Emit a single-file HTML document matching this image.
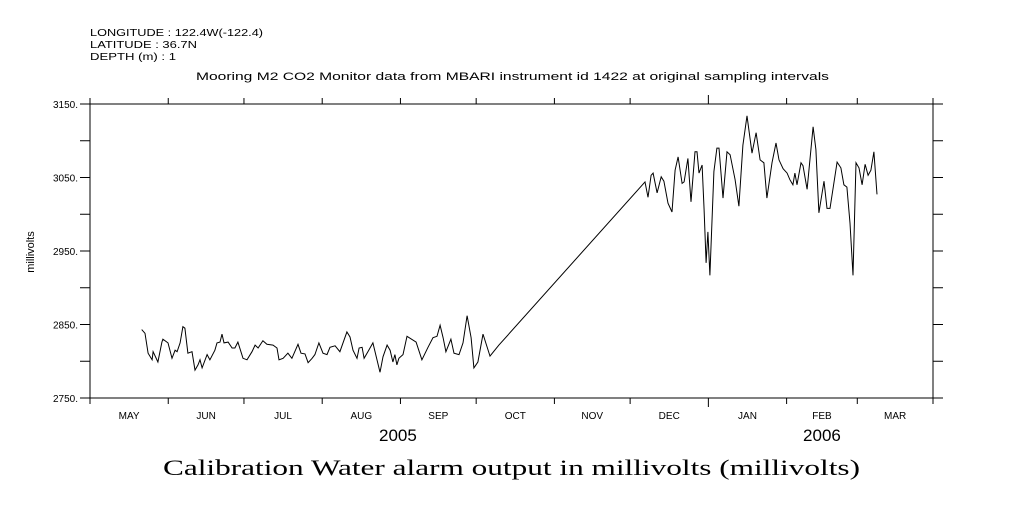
<!DOCTYPE html>
<html><head><meta charset="utf-8"><style>
body{margin:0;background:#fff;width:1009px;height:504px;overflow:hidden}
svg text{font-family:"Liberation Sans",sans-serif;fill:#000}
</style></head><body>
<svg id="chart" width="1009" height="504" xmlns="http://www.w3.org/2000/svg">
<g font-size="10">
<text x="90" y="36" textLength="173" lengthAdjust="spacingAndGlyphs">LONGITUDE : 122.4W(-122.4)</text>
<text x="90" y="48" textLength="107" lengthAdjust="spacingAndGlyphs">LATITUDE : 36.7N</text>
<text x="90" y="60" textLength="86" lengthAdjust="spacingAndGlyphs">DEPTH (m) : 1</text>
</g>
<text x="196" y="80" font-size="11" textLength="633" lengthAdjust="spacingAndGlyphs">Mooring M2 CO2 Monitor data from MBARI instrument id 1422 at original sampling intervals</text>
<text transform="translate(34,252) rotate(-90)" font-size="11" text-anchor="middle">millivolts</text>
<text x="163" y="475" font-size="22" textLength="697" lengthAdjust="spacingAndGlyphs" style="font-family:'Liberation Serif',serif">Calibration Water alarm output in millivolts (millivolts)</text>
<rect x="90" y="104" width="843" height="294" fill="none" stroke="#000" stroke-width="1"/>
<g id="axes"></g>
<g id="series"></g>
</svg>
<script>
const monthLabels=["MAY","JUN","JUL","AUG","SEP","OCT","NOV","DEC","JAN","FEB","MAR"];
const monthStartDays=[0,31,61,92,123,153,184,214,245,276,304,334];
const yTicks=[2750,2850,2950,3050,3150];
const yMinorTicks=[2800,2900,3000,3100];
const yearLabels=["2005","2006"];
const yearDays=[122,290];
const seg1Days=[20.5,21.8,23.0,24.6,25.0,26.9,28.5,28.9,30.9,32.5,33.7,34.5,35.7,36.8,37.6,38.8,40.4,41.6,42.8,43.6,44.4,46.4,47.5,49.5,50.3,51.5,52.3,53.1,54.7,56.3,57.4,58.6,60.6,62.2,64.2,65.4,66.6,68.5,70.1,72.5,74.1,74.9,76.5,78.4,80.0,82.4,83.6,85.2,86.4,88.0,89.1,90.7,92.3,93.9,95.1,97.1,99.0,101.8,103.0,104.2,105.8,106.6,107.8,108.6,110.1,112.1,114.9,116.1,117.7,118.9,120.0,120.8,121.6,122.4,124.0,125.6,129.2,131.5,133.9,135.9,137.5,138.7,139.9,141.0,143.0,144.2,146.2,147.8,149.4,151.0,152.1,153.7,155.7,158.5,162.0];
const seg1Values=[2843,2838,2811,2802,2813,2799,2826,2830,2825,2804,2815,2813,2825,2847,2845,2811,2813,2788,2795,2802,2791,2809,2802,2815,2825,2826,2837,2825,2826,2818,2818,2826,2804,2802,2813,2822,2818,2828,2823,2822,2818,2802,2804,2811,2804,2823,2811,2810,2798,2804,2809,2825,2811,2809,2819,2821,2813,2840,2833,2815,2804,2818,2819,2804,2813,2825,2785,2806,2822,2815,2799,2809,2795,2804,2809,2834,2826,2802,2819,2832,2834,2849,2832,2813,2830,2811,2809,2825,2862,2832,2791,2799,2837,2807,2822];
const seg2Days=[219.9,221.1,222.3,223.1,224.7,226.3,227.4,229.0,230.6,231.8,233.0,234.6,235.4,236.9,238.1,239.7,240.5,241.3,242.5,243.3,244.1,244.8,245.6,247.2,248.4,249.2,250.8,252.4,253.6,255.6,257.1,258.7,260.3,262.3,263.9,265.5,267.0,268.2,270.2,271.8,273.0,274.6,276.2,277.3,278.5,279.3,280.1,281.7,282.5,284.1,286.5,287.6,288.8,290.8,292.0,293.2,296.0,297.5,298.7,299.9,301.1,302.3,303.5,304.7,305.9,307.1,308.3,309.4,310.6,311.8];
const seg2Values=[3044,3023,3053,3056,3029,3051,3045,3015,3003,3060,3078,3042,3044,3076,3017,3085,3085,3056,3067,3006,2934,2976,2917,3058,3090,3090,3022,3085,3081,3047,3011,3094,3134,3083,3111,3074,3070,3022,3070,3097,3074,3062,3056,3047,3040,3056,3040,3070,3066,3034,3119,3088,3002,3045,3008,3008,3071,3063,3040,3037,2988,2917,3070,3063,3040,3068,3053,3060,3085,3027];

const X0=90,X1=933,Y0=398,Y1=104,DMAX=334,VMIN=2750,VMAX=3150;
const xs=d=>X0+(d/DMAX)*(X1-X0);
const ys=v=>Y0-(v-VMIN)/(VMAX-VMIN)*(Y0-Y1);
const NS="http://www.w3.org/2000/svg";
function mk(tag,attrs,parent){const e=document.createElementNS(NS,tag);for(const k in attrs)e.setAttribute(k,attrs[k]);parent.appendChild(e);return e;}
const ax=document.getElementById('axes');
monthStartDays.forEach((d,i)=>{
  const x=xs(d);const len=(i===8)?9:6;
  const t=mk('line',{x1:x,y1:Y0,x2:x,y2:Y0+len,stroke:'#000'},ax);
  
  
  const t2=mk('line',{x1:x,y1:Y1,x2:x,y2:Y1-len,stroke:'#000'},ax);
  
  
});
monthLabels.forEach((m,i)=>{
  const x=(xs(monthStartDays[i])+xs(monthStartDays[i+1]))/2;
  const t=mk('text',{x:x,y:419,'font-size':10,'text-anchor':'middle'},ax);t.textContent=m;
  
  
});
yearLabels.forEach((y,i)=>{
  const t=mk('text',{x:xs(yearDays[i]),y:441,'font-size':17,'text-anchor':'middle'},ax);t.textContent=y;
  
  
});
yTicks.concat(yMinorTicks).forEach(v=>{
  const y=ys(v);
  const a=mk('line',{x1:X0-10,y1:y,x2:X0,y2:y,stroke:'#000'},ax);
  
  
  const b=mk('line',{x1:X1,y1:y,x2:X1+10,y2:y,stroke:'#000'},ax);
  
  
});
yTicks.forEach(v=>{
  const t=mk('text',{x:78,y:ys(v)+4,'font-size':10,'text-anchor':'end'},ax);t.textContent=v+'.';
  
  
});
const sg=document.getElementById('series');
const days=seg1Days.concat(seg2Days),vals=seg1Values.concat(seg2Values);
const p=mk('path',{d:days.map((d,i)=>(i?'L':'M')+xs(d).toFixed(1)+','+ys(vals[i]).toFixed(1)).join(''),fill:'none',stroke:'#000','stroke-width':1},sg);


</script>
</body></html>
